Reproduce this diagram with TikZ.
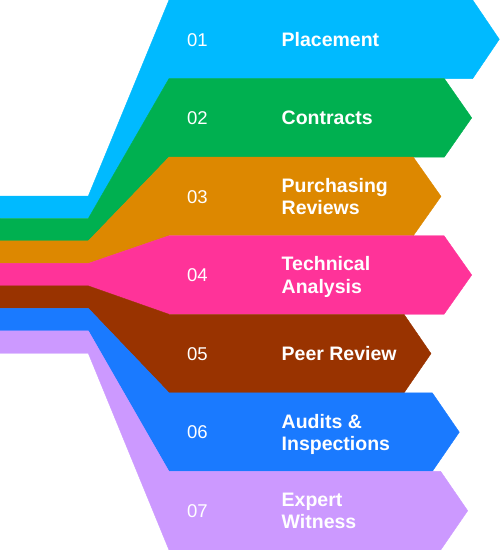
\documentclass[tikz,border=0pt]{standalone}
\usepackage{fontspec}
\setmainfont{Liberation Sans}
\definecolor{cA}{HTML}{00BAFF}
\definecolor{cB}{HTML}{00B050}
\definecolor{cC}{HTML}{DD8800}
\definecolor{cD}{HTML}{FF3399}
\definecolor{cE}{HTML}{993300}
\definecolor{cF}{HTML}{1A7AFF}
\definecolor{cG}{HTML}{CC99FF}
\begin{document}
\begin{tikzpicture}[x=1pt,y=-1pt,
  num/.style={anchor=base west, inner sep=0pt, text=white, font=\fontsize{18.5}{22}\selectfont},
  ttl/.style={anchor=base west, inner sep=0pt, text=white, font=\fontsize{19.5}{22}\selectfont\bfseries},
  band/.style={fill=#1, draw=#1, line width=0.4pt}]
\useasboundingbox (0,0) rectangle (500,550);
\foreach \i/\col/\rx/\tx in {1/cA/472.7/499.3, 2/cB/444.3/471.7, 3/cC/413.3/441, 4/cD/444/471.7, 5/cE/404/431, 6/cF/432.3/459.3, 7/cG/440.7/467.7} {
  \pgfmathsetmacro\bt{78.571*(\i-1)}
  \pgfmathsetmacro\bb{78.571*\i}
  \pgfmathsetmacro\bm{78.571*(\i-0.5)}
  \pgfmathsetmacro\st{196+22.47*(\i-1)}
  \pgfmathsetmacro\sb{196+22.47*\i}
  \path[band=\col] (0,\st) -- (88.3,\st) -- (169,\bt) -- (\rx,\bt) -- (\tx,\bm) -- (\rx,\bb) -- (169,\bb) -- (88.3,\sb) -- (0,\sb) -- cycle;
}
% numbers
\node[num] (n1) at (187,46.1) {01};
\node[num] (n2) at (187,124.7) {02};
\node[num] (n3) at (187,203.2) {03};
\node[num] (n4) at (187,281.8) {04};
\node[num] (n5) at (187,360.4) {05};
\node[num] (n6) at (187,438.9) {06};
\node[num] (n7) at (187,517.5) {07};
% titles
\node[ttl] (t1) at (281.5,46.2) {Placement};
\node[ttl] (t2) at (281.5,124.8) {Contracts};
\node[ttl] (t3a) at (281.5,192.3) {Purchasing};
\node[ttl] (t3b) at (281.5,214.5) {Reviews};
\node[ttl] (t4a) at (281.5,270.9) {Technical};
\node[ttl] (t4b) at (281.5,293.1) {Analysis};
\node[ttl] (t5) at (281.5,360.5) {Peer Review};
\node[ttl] (t6a) at (281.5,428.0) {Audits \&};
\node[ttl] (t6b) at (281.5,450.2) {Inspections};
\node[ttl] (t7a) at (281.5,506.6) {Expert};
\node[ttl] (t7b) at (281.5,528.8) {Witness};
\end{tikzpicture}
\end{document}
